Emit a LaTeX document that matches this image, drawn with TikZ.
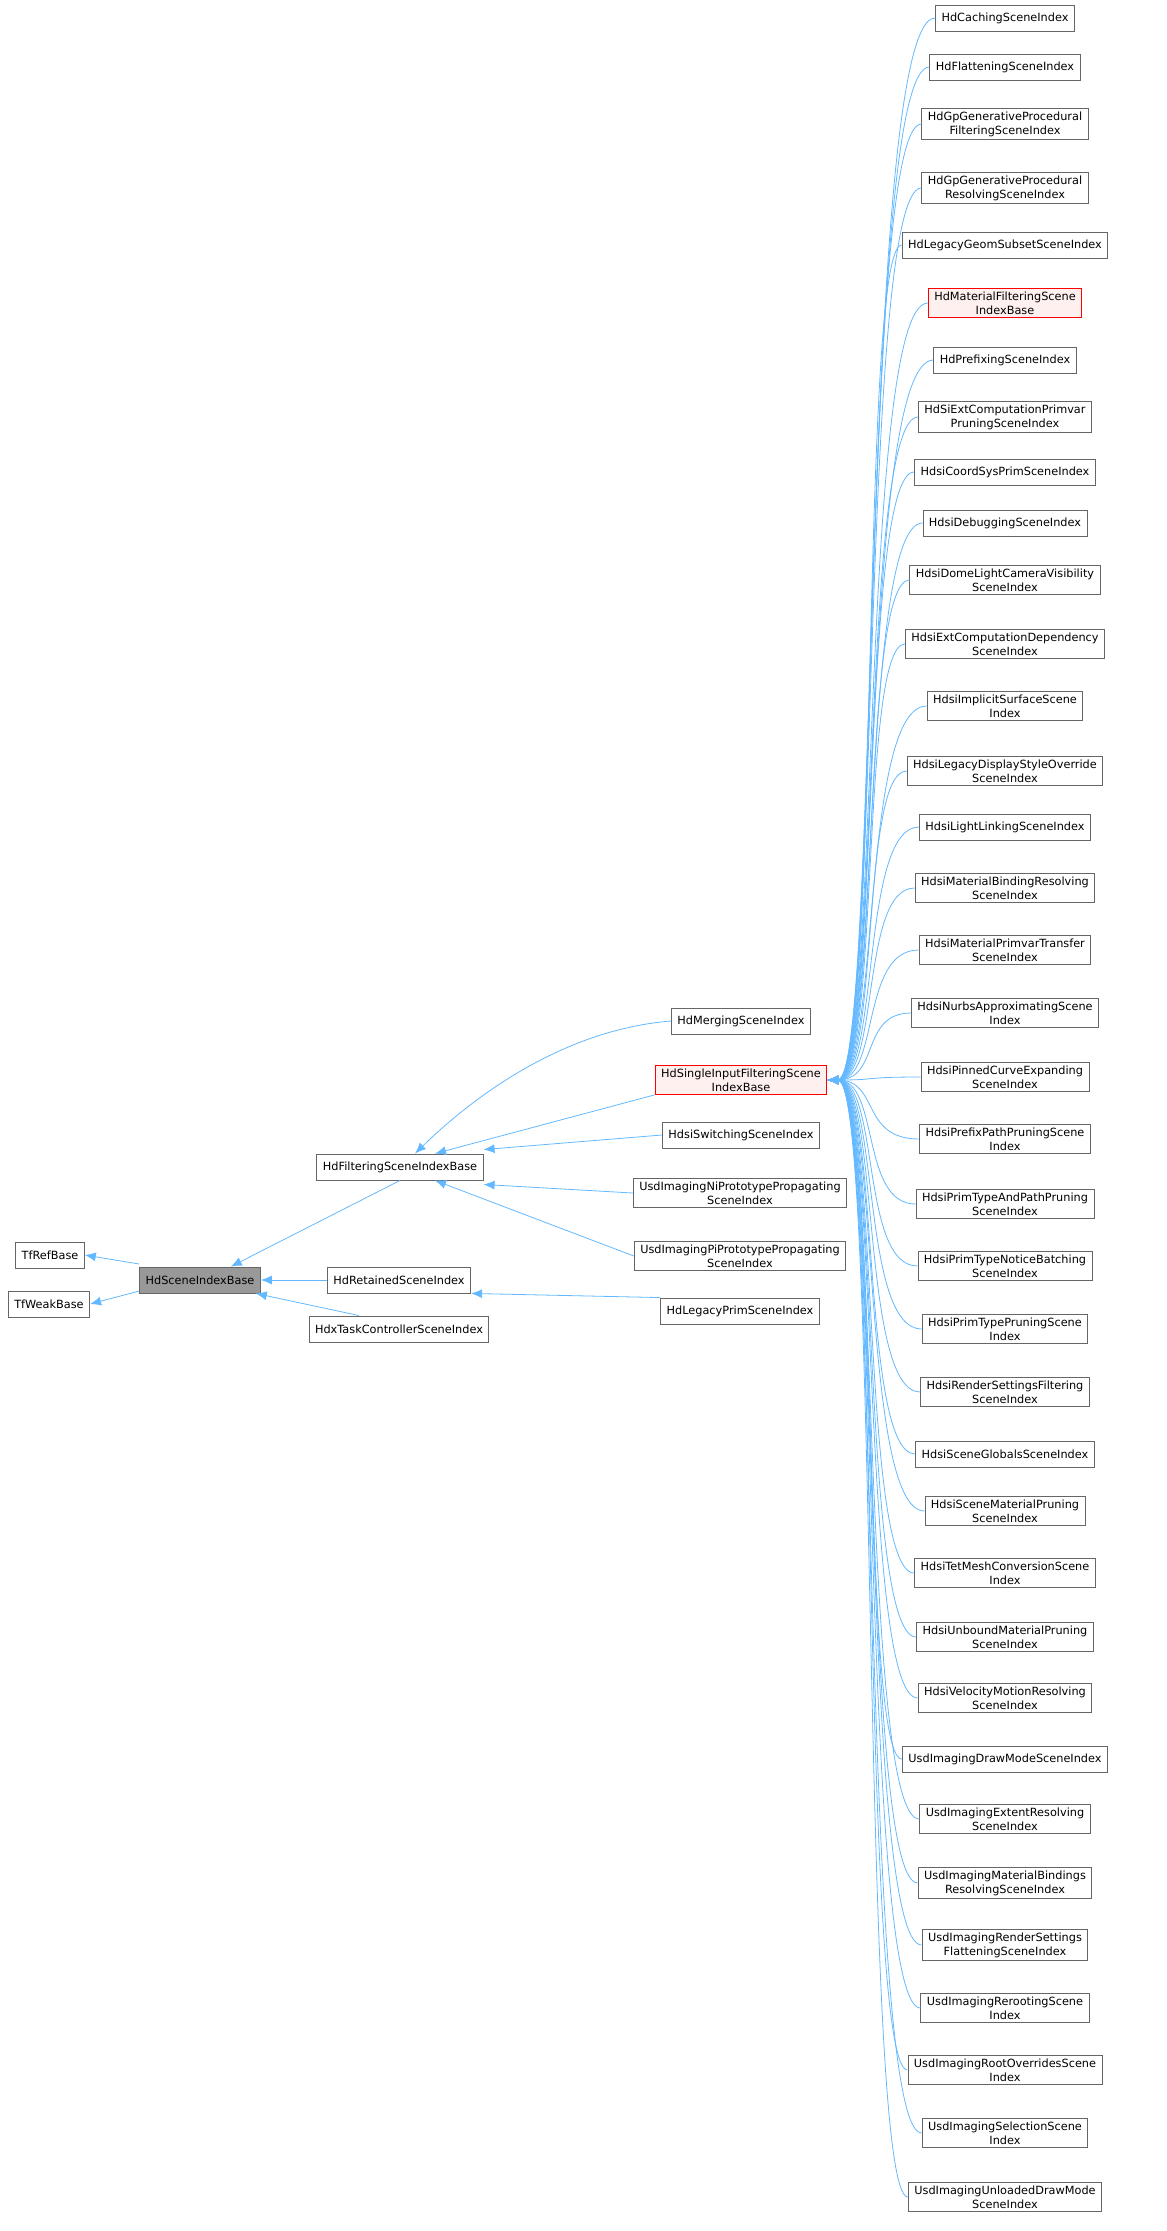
\documentclass[tikz,border=0pt]{standalone}
\usepackage{fontspec}
\setmainfont{DejaVu Sans}
\usetikzlibrary{arrows.meta}
\definecolor{edgeblue}{HTML}{63B8FF}
\begin{document}
\begin{tikzpicture}[x=1pt,y=-1pt,
  box/.style={draw=black!60,fill=white,line width=0.9pt,inner xsep=6pt,inner ysep=3pt,minimum height=26pt,align=center,font=\fontsize{11.3}{14}\selectfont},
  redbox/.style={box,draw=red,fill=red!6},
  graybox/.style={box,fill=black!40,draw=black!60},
  edge/.style={draw=edgeblue,line width=0.8pt,{Latex[length=11pt,width=9pt]}-}]
\useasboundingbox (0,0) rectangle (1167,2231);
\node[box] (ref) at (50,1255) {TfRefBase};
\node[box] (weak) at (49,1304) {TfWeakBase};
\node[graybox] (sib) at (200,1280) {HdSceneIndexBase};
\node[box] (filt) at (400,1167) {HdFilteringSceneIndexBase};
\node[box] (ret) at (399,1280) {HdRetainedSceneIndex};
\node[box] (hdx) at (399,1329) {HdxTaskControllerSceneIndex};
\node[box] (merg) at (741,1021) {HdMergingSceneIndex};
\node[redbox] (single) at (741,1080) {HdSingleInputFilteringScene\\IndexBase};
\node[box] (switch) at (741,1135) {HdsiSwitchingSceneIndex};
\node[box] (ni) at (740,1193) {UsdImagingNiPrototypePropagating\\SceneIndex};
\node[box] (pi) at (740,1256) {UsdImagingPiPrototypePropagating\\SceneIndex};
\node[box] (legprim) at (740,1311) {HdLegacyPrimSceneIndex};
\draw[edge] (ref.east) -- (sib.west |- 0,1264);
\draw[edge] (weak.east) -- (sib.west |- 0,1291);
\draw[edge] (sib.north east) ++(-30,0) coordinate (a1) (a1) -- (filt.south);
\draw[edge] (sib.east) -- (ret.west);
\draw[edge] ([xshift=-5pt]sib.south east) -- ([xshift=-40pt]hdx.north);
\draw[edge] ([xshift=15pt]filt.north) .. controls (470,1100) and (560,1030) .. (merg.west);
\draw[edge] ([xshift=35pt]filt.north) -- (single.south west);
\draw[edge] ([yshift=4pt]filt.north east) -- (switch.west);
\draw[edge] ([yshift=-4pt]filt.south east) -- (ni.west);
\draw[edge] ([xshift=35pt]filt.south) -- (pi.west);
\draw[edge] (ret.south east) -- (legprim.north west);
\foreach \n/\y/\t/\s in {
 1/18/{HdCachingSceneIndex}/box,
 2/67/{HdFlatteningSceneIndex}/box,
 3/124/{HdGpGenerativeProcedural\\FilteringSceneIndex}/box,
 4/188/{HdGpGenerativeProcedural\\ResolvingSceneIndex}/box,
 5/245/{HdLegacyGeomSubsetSceneIndex}/box,
 6/303/{HdMaterialFilteringScene\\IndexBase}/redbox,
 7/360/{HdPrefixingSceneIndex}/box,
 8/417/{HdSiExtComputationPrimvar\\PruningSceneIndex}/box,
 9/472/{HdsiCoordSysPrimSceneIndex}/box,
 10/523/{HdsiDebuggingSceneIndex}/box,
 11/580/{HdsiDomeLightCameraVisibility\\SceneIndex}/box,
 12/644/{HdsiExtComputationDependency\\SceneIndex}/box,
 13/706/{HdsiImplicitSurfaceScene\\Index}/box,
 14/771/{HdsiLegacyDisplayStyleOverride\\SceneIndex}/box,
 15/827/{HdsiLightLinkingSceneIndex}/box,
 16/888/{HdsiMaterialBindingResolving\\SceneIndex}/box,
 17/950/{HdsiMaterialPrimvarTransfer\\SceneIndex}/box,
 18/1013/{HdsiNurbsApproximatingScene\\Index}/box,
 19/1077/{HdsiPinnedCurveExpanding\\SceneIndex}/box,
 20/1139/{HdsiPrefixPathPruningScene\\Index}/box,
 21/1204/{HdsiPrimTypeAndPathPruning\\SceneIndex}/box,
 22/1266/{HdsiPrimTypeNoticeBatching\\SceneIndex}/box,
 23/1329/{HdsiPrimTypePruningScene\\Index}/box,
 24/1392/{HdsiRenderSettingsFiltering\\SceneIndex}/box,
 25/1454/{HdsiSceneGlobalsSceneIndex}/box,
 26/1511/{HdsiSceneMaterialPruning\\SceneIndex}/box,
 27/1573/{HdsiTetMeshConversionScene\\Index}/box,
 28/1637/{HdsiUnboundMaterialPruning\\SceneIndex}/box,
 29/1698/{HdsiVelocityMotionResolving\\SceneIndex}/box,
 30/1759/{UsdImagingDrawModeSceneIndex}/box,
 31/1819/{UsdImagingExtentResolving\\SceneIndex}/box,
 32/1883/{UsdImagingMaterialBindings\\ResolvingSceneIndex}/box,
 33/1945/{UsdImagingRenderSettings\\FlatteningSceneIndex}/box,
 34/2008/{UsdImagingRerootingScene\\Index}/box,
 35/2070/{UsdImagingRootOverridesScene\\Index}/box,
 36/2133/{UsdImagingSelectionScene\\Index}/box,
 37/2197/{UsdImagingUnloadedDrawMode\\SceneIndex}/box}{
  \node[\s] (r\n) at (1005,\y) {\t};
  \path (r\n.west) coordinate (w\n);
  \draw[edge] (single.east) .. controls (880,1080) and (860,\y) .. ([xshift=0pt]w\n);
}
\end{tikzpicture}
\end{document}
